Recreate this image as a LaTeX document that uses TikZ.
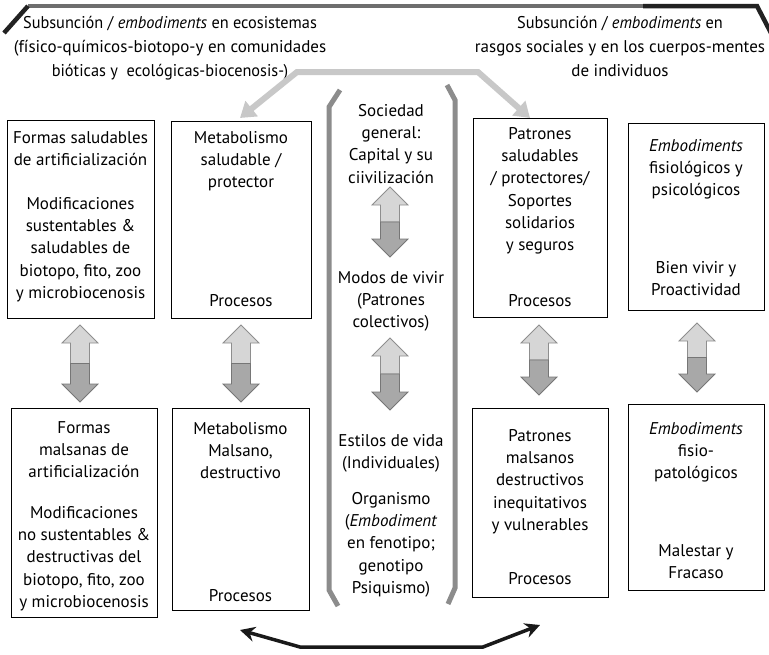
\documentclass[tikz,border=0pt]{standalone}
\usepackage{fontspec}
\setmainfont{PT Sans}
\usetikzlibrary{arrows.meta}

\definecolor{barGrey}{HTML}{6E6E6E}
\definecolor{barDark}{HTML}{222222}
\definecolor{flowGrey}{HTML}{C8C8C8}
\definecolor{bracketGrey}{HTML}{8C8C8C}
\definecolor{upFill}{HTML}{D6D6D6}
\definecolor{upLine}{HTML}{8E8E8E}
\definecolor{downFill}{HTML}{A8A8A8}
\definecolor{downLine}{HTML}{767676}

% double block arrow: light half pointing up, dark half pointing down
% #1 = x of axis, #2 = y of upper tip, #3 = y of lower tip
\newcommand\pairarrow[3]{%
  \pgfmathsetmacro\pmid{(#2+#3)/2}%
  \filldraw[fill=upFill, draw=upLine, line width=0.8pt, line join=miter]
    (#1,#2) -- ({#1+18},{#2+18}) -- ({#1+9.5},{#2+18}) -- ({#1+9.5},\pmid)
    -- ({#1-9.5},\pmid) -- ({#1-9.5},{#2+18}) -- ({#1-18},{#2+18}) -- cycle;
  \filldraw[fill=downFill, draw=downLine, line width=0.8pt, line join=miter]
    (#1,#3) -- ({#1+18},{#3-18}) -- ({#1+9.5},{#3-18}) -- ({#1+9.5},\pmid)
    -- ({#1-9.5},\pmid) -- ({#1-9.5},{#3-18}) -- ({#1-18},{#3-18}) -- cycle;
}
% slightly condensed heading line
\newcommand\tight[1]{\scalebox{0.96}[1]{#1}}

\begin{document}
\begin{tikzpicture}[x=1pt, y=-1pt,
  boxnode/.style={draw=black, line width=0.9pt, inner sep=0pt},
  txt/.style={font=\fontsize{17}{22.3}\selectfont, align=center, inner sep=0pt, anchor=north},
  headtxt/.style={font=\fontsize{17}{24}\selectfont, align=center, inner sep=0pt, anchor=north},
  bar/.style={line width=4.5pt, line join=miter},
  flow/.style={line width=6pt, flowGrey, line join=miter,
    {Triangle[length=15pt,width=19pt]}-{Triangle[length=15pt,width=19pt]}},
  bracketline/.style={line width=5pt, bracketGrey, line join=miter},
  loop/.style={line width=3.5pt, black!90, line join=miter,
    {Stealth[length=15pt,width=15pt,inset=5pt]}-{Stealth[length=15pt,width=15pt,inset=5pt]}}
]
\useasboundingbox (0,0) rectangle (769,654);

% top frame bar
\draw[bar, barGrey] (28,6) -- (645,6);
\draw[bar, barDark] (4,33) -- (28,6);
\draw[bar, barDark] (643,6) -- (757,6) -- (771,33);

% headings
\node[headtxt] (hl) at (170,16) {\tight{Subsunción / \textit{embodiments} en ecosistemas}\\(físico-químicos-biotopo-y en comunidades\\\tight{bióticas y\ \ ecológicas-biocenosis-)}};
\node[headtxt] (hr) at (620,16) {\tight{Subsunción / \textit{embodiments} en}\\rasgos sociales y en los cuerpos-mentes\\de individuos};

% boxes
\node[boxnode, minimum width=147, minimum height=198] (b1) at (80.5,219) {};
\node[boxnode, minimum width=140, minimum height=197] (b2) at (241,219.5) {};
\node[boxnode, minimum width=134, minimum height=199] (b3) at (540,217.5) {};
\node[boxnode, minimum width=136, minimum height=187] (b4) at (696,216.5) {};
\node[boxnode, minimum width=146, minimum height=209] (b5) at (84,512.5) {};
\node[boxnode, minimum width=137, minimum height=202] (b6) at (240.5,509) {};
\node[boxnode, minimum width=136, minimum height=189] (b7) at (540,502.5) {};
\node[boxnode, minimum width=136, minimum height=186] (b8) at (696,497) {};

% box texts
\node[txt] (t1a) at (80.5,131) {Formas saludables\\de artificialización};
\node[txt] (t1b) at (80.5,197) {Modificaciones\\sustentables \&\\saludables de\\biotopo, fito, zoo\\y microbiocenosis};
\node[txt] (t2a) at (241,131) {Metabolismo\\saludable /\\protector};
\node[txt] (t2b) at (241,294) {Procesos};
\node[txt] (t3a) at (540,127) {Patrones\\saludables\\/ protectores/\\Soportes\\solidarios\\y seguros};
\node[txt] (t3b) at (540,294) {Procesos};
\node[txt] (t4a) at (696,139) {\textit{Embodiments}\\fisiológicos y\\psicológicos};
\node[txt] (t4b) at (696,261) {Bien vivir y\\Proactividad};
\node[txt] (t5a) at (84,421) {Formas\\malsanas de\\artificialización};
\node[txt] (t5b) at (84,506) {Modificaciones\\no sustentables \&\\destructivas del\\biotopo, fito, zoo\\y microbiocenosis};
\node[txt] (t6a) at (240.5,422) {Metabolismo\\Malsano,\\destructivo};
\node[txt] (t6b) at (240.5,589) {Procesos};
\node[txt] (t7a) at (540,429) {Patrones\\malsanos\\destructivos\\inequitativos\\y vulnerables};
\node[txt] (t7b) at (540,572) {Procesos};
\node[txt] (t8a) at (696,422) {\textit{Embodiments}\\fisio-\\patológicos};
\node[txt] (t8b) at (696,544) {Malestar y\\Fracaso};

% central column
\node[txt] (c1) at (391,104) {Sociedad\\general:\\Capital y su\\ciivilización};
\node[txt] (c2) at (391,271) {Modos de vivir\\(Patrones\\colectivos)};
\node[txt] (c3) at (391,434) {Estilos de vida\\(Individuales)};
\node[txt] (c4) at (391,492) {Organismo\\(\textit{Embodiment}\\en fenotipo;\\genotipo\\Psiquismo)};

\draw[bracketline] (340,90) -- (329,107) -- (329,590) -- (338,606);
\draw[bracketline] (447,85) -- (455,100) -- (455,588) -- (448,604);

% grey flow from the top into both sides
\coordinate (fl) at (240,118);
\coordinate (fr) at (530,118);
\draw[flow] (fl) -- (297,72) -- (478,72) -- (fr);

% two-way block arrows
\pairarrow{80}{325}{402}
\pairarrow{241}{325}{402}
\pairarrow{390}{187}{257}
\pairarrow{390}{338}{410}
\pairarrow{539}{325}{395}
\pairarrow{697}{323}{392}

% black loop at the bottom
\coordinate (ll) at (240,630);
\coordinate (lr) at (540,625);
\draw[loop] (ll) -- (300,647) -- (483,647) -- (lr);
\end{tikzpicture}
\end{document}
